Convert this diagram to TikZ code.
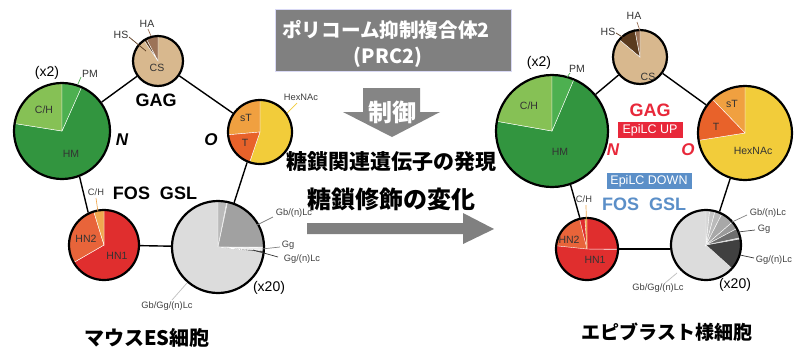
\documentclass[tikz,border=0pt]{standalone}
\usepackage{fontspec}
\setmainfont{Liberation Sans}
\newfontfamily\jp{Noto Sans CJK JP}
\definecolor{tanc}{HTML}{D8B88E}
\definecolor{hac}{HTML}{9C7358}
\definecolor{hsc}{HTML}{5A3A1E}
\definecolor{chg}{HTML}{86C155}
\definecolor{pmg}{HTML}{4DB050}
\definecolor{hmg}{HTML}{32953F}
\definecolor{stc}{HTML}{F0A040}
\definecolor{tc}{HTML}{E8622A}
\definecolor{hexc}{HTML}{F2CC3A}
\definecolor{hn1c}{HTML}{E02E2E}
\definecolor{hn2c}{HTML}{E8643A}
\definecolor{chc}{HTML}{F0A850}
\definecolor{lgc}{HTML}{DCDCDC}
\definecolor{redc}{HTML}{E8283A}
\definecolor{bluec}{HTML}{5B8FC8}
\definecolor{boxg}{HTML}{808080}
\definecolor{arrg}{HTML}{858585}
\newcommand\pslice[6]{\filldraw[fill=#6,draw=white,line width=0.4pt] (#1,#2) -- ++({-(#4)}:#3) arc[start angle={-(#4)}, end angle={-(#5)}, radius=#3] -- cycle;}
\begin{document}
\begin{tikzpicture}[x=1pt,y=-1pt,
  pie/.style={circle,draw=black,line width=2.2pt,inner sep=0pt},
  conn/.style={line width=1.4pt,black},
  lbl/.style={font=\fontsize{10.5}{11}\selectfont,text=black!80,inner sep=0pt},
  sml/.style={font=\fontsize{9.3}{10}\selectfont,text=black!75,inner sep=0pt},
  mult/.style={font=\fontsize{14}{15}\selectfont,inner sep=0pt},
  big/.style={font=\bfseries\fontsize{18}{19}\selectfont,inner sep=0pt},
  bigit/.style={font=\bfseries\itshape\fontsize{17}{18}\selectfont,inner sep=0pt},
  lead/.style={line width=0.7pt},
  jpt/.style={font=\jp\bfseries\fontsize{#1}{#1}\selectfont,inner sep=0pt},
  tagbox/.style={text=white,font=\fontsize{12.5}{13}\selectfont,inner sep=0pt,minimum height=16pt}
]
\useasboundingbox (0,0) rectangle (798,349);
\fill[white] (0,0) rectangle (798,349);

% ================= LEFT =================
\pslice{158}{61}{25}{124}{450}{tanc}
\pslice{158}{61}{25}{90}{118}{hac}
\pslice{158}{61}{25}{118}{124}{hsc}
\node[pie,minimum size=50pt] (csL) at (158,61) {};
\pslice{62}{131}{48}{171}{426}{hmg}
\pslice{62}{131}{48}{90}{171}{chg}
\pslice{62}{131}{48}{66}{90}{pmg}
\node[pie,minimum size=96pt] (hmL) at (62,131) {};
\pslice{260}{132}{32}{251}{450}{hexc}
\pslice{260}{132}{32}{90}{185}{stc}
\pslice{260}{132}{32}{185}{251}{tc}
\node[pie,minimum size=64pt] (oL) at (260,132) {};
\pslice{104}{245}{35}{210}{450}{hn1c}
\pslice{104}{245}{35}{107}{210}{hn2c}
\pslice{104}{245}{35}{90}{107}{chc}
\node[pie,minimum size=70pt] (hnL) at (104,245) {};
\pslice{218}{247}{46}{-1}{360}{lgc}
\pslice{218}{247}{46}{79}{90}{black!27}
\pslice{218}{247}{46}{0}{78}{black!37}
\pslice{218}{247}{46}{-4}{-1}{black!8}
\pslice{218}{247}{46}{-7}{-5}{black!70}
\node[pie,minimum size=92pt] (gslL) at (218,247) {};
\draw[conn] (csL) -- (hmL);
\draw[conn] (csL) -- (oL);
\draw[conn] (hmL.-69) -- (hnL.116);
\draw[conn] (hnL) -- (gslL);
\draw[conn] (oL.-113) -- (gslL.70);
\node[lbl] (hsLt) at (121,35) {HS};
\node[lbl] (haLt) at (147,24) {HA};
\coordinate (hsL1) at (129,37); \coordinate (hsL2) at (146,51);
\coordinate (haL1) at (148,29); \coordinate (haL2) at (151,36);
\draw[lead,hsc] (hsL1) -- (hsL2);
\draw[lead,hac] (haL1) -- (haL2);
\node[lbl] (csLt) at (157,68) {CS};
\node[lbl] (pmLt) at (90,74) {PM};
\coordinate (pmL1) at (81,77); \coordinate (pmL2) at (78,84);
\draw[lead,pmg] (pmL1) -- (pmL2);
\node[mult] (x2L) at (47,73) {(x2)};
\node[lbl] (chLt) at (44,110) {C/H};
\node[lbl] (hmLt) at (71,154) {HM};
\node[big] (gagL) at (156,100) {GAG};
\node[bigit] (nL) at (122,140) {N};
\node[bigit] (oLt) at (211,140) {O};
\node[lbl] (stLt) at (246,118) {sT};
\node[lbl] (tLt) at (245,143) {T};
\node[sml] (hexLt) at (301,97) {HexNAc};
\coordinate (hexL1) at (297,103); \coordinate (hexL2) at (287,113);
\draw[lead,hexc] (hexL1) -- (hexL2);
\node[sml] (chL2t) at (96,192) {C/H};
\coordinate (chL1) at (96,198); \coordinate (chL2) at (98,212);
\draw[lead,chc] (chL1) -- (chL2);
\node[big] (fosL) at (155,193) {FOS\hspace{10pt}GSL};
\node[lbl] (hn2Lt) at (86,239) {HN2};
\node[lbl] (hn1Lt) at (117,256) {HN1};
\node[sml] (gbLt) at (294,213) {Gb/(n)Lc};
\coordinate (gbL1) at (273,217); \coordinate (gbL2) at (257,225);
\draw[lead,black!50] (gbL1) -- (gbL2);
\node[sml] (ggLt) at (288,245) {Gg};
\coordinate (ggL1) at (280,247); \coordinate (ggL2) at (262,249);
\draw[lead,black!50] (ggL1) -- (ggL2);
\node[sml] (ggnLt) at (302,259) {Gg/(n)Lc};
\coordinate (ggnL1) at (278,257); \coordinate (ggnL2) at (253,250);
\draw[lead,black!80] (ggnL1) -- (ggnL2);
\node[sml] (gbgLt) at (167,306) {Gb/Gg/(n)Lc};
\coordinate (gbgL1) at (172,300); \coordinate (gbgL2) at (187,283);
\draw[lead,black!25] (gbgL1) -- (gbgL2);
\node[mult] (x20L) at (269,288) {(x20)};
\node[jpt=20] (esL) at (147,338) {マウスES細胞};

% ================= CENTER =================
\node[fill=boxg,draw=black!25!blue!15!white,line width=0.8pt,minimum width=236pt,minimum height=62pt,inner sep=0pt] (prc) at (393,40) {};
\node[jpt=19.6,text=white] (prc1) at (386,30) {ポリコーム抑制複合体2};
\node[jpt=19.6,text=white] (prc2) at (388,57) {(PRC2)};
\fill[arrg] (363,88) -- (420,88) -- (420,112) -- (440,112) -- (392,137) -- (343,112) -- (363,112) -- cycle;
\node[jpt=24,text=white] (ctrl) at (392,112) {制御};
\node[jpt=21] (expr) at (391,162) {糖鎖関連遺伝子の発現};
\node[jpt=24] (chg) at (391,199) {糖鎖修飾の変化};
\fill[boxg] (307,223) -- (463,223) -- (463,213) -- (494,229) -- (463,244) -- (463,234) -- (307,234) -- cycle;

% ================= RIGHT =================
\pslice{640}{57}{27}{140}{450}{tanc}
\pslice{640}{57}{27}{90}{101}{hac}
\pslice{640}{57}{27}{101}{140}{hsc}
\node[pie,minimum size=54pt] (csR) at (640,57) {};
\pslice{552}{131}{56}{170}{427}{hmg}
\pslice{552}{131}{56}{90}{170}{chg}
\pslice{552}{131}{56}{67}{90}{pmg}
\node[pie,minimum size=112pt] (hmR) at (552,131) {};
\pslice{745}{133}{47}{189}{450}{hexc}
\pslice{745}{133}{47}{90}{134}{stc}
\pslice{745}{133}{47}{134}{189}{tc}
\node[pie,minimum size=94pt] (oR) at (745,133) {};
\pslice{587}{249}{31}{-1}{360}{hn1c}
\pslice{587}{249}{31}{104}{174}{hn2c}
\pslice{587}{249}{31}{90}{94}{chc}
\node[pie,minimum size=62pt] (hnR) at (587,249) {};
\pslice{706}{245}{35}{-1}{360}{lgc}
\pslice{706}{245}{35}{84}{90}{black!17}
\pslice{706}{245}{35}{75}{84}{black!23}
\pslice{706}{245}{35}{63}{75}{black!27}
\pslice{706}{245}{35}{41}{63}{black!34}
\pslice{706}{245}{35}{28}{41}{black!40}
\pslice{706}{245}{35}{12}{28}{black!57}
\pslice{706}{245}{35}{-42}{10}{black!75}
\node[pie,minimum size=70pt] (gslR) at (706,245) {};
\draw[conn] (csR) -- (hmR);
\draw[conn] (csR) -- (oR);
\draw[conn] (hmR.-71) -- (hnR.103);
\draw[conn] (hnR.0) -- (gslR.west |- hnR.0);
\draw[conn] (oR.-108) -- (gslR.68);
\node[lbl] (hsRt) at (608,32) {HS};
\node[lbl] (haRt) at (634,16) {HA};
\coordinate (hsR1) at (616,33); \coordinate (hsR2) at (624,38);
\coordinate (haR1) at (637,22); \coordinate (haR2) at (640,31);
\draw[lead,hsc] (hsR1) -- (hsR2);
\draw[lead,hac] (haR1) -- (haR2);
\node[lbl] (csRt) at (648,77) {CS};
\node[mult] (x2R) at (539,63) {(x2)};
\node[lbl] (pmRt) at (577,69) {PM};
\coordinate (pmR1) at (570,73); \coordinate (pmR2) at (567,77);
\draw[lead,pmg] (pmR1) -- (pmR2);
\node[lbl] (chRt) at (529,106) {C/H};
\node[lbl] (hmRt) at (560,152) {HM};
\node[big,text=redc] (gagR) at (650,110) {GAG};
\node[tagbox,fill=redc,minimum width=65pt] (up) at (650,130) {EpiLC UP};
\node[bigit,text=redc] (nR) at (613,150) {N};
\node[bigit,text=redc] (oRt) at (688,150) {O};
\node[lbl] (stRt) at (732,104) {sT};
\node[lbl] (tRt) at (716,127) {T};
\node[lbl] (hexRt) at (753,151) {HexNAc};
\node[tagbox,fill=bluec,minimum width=85pt] (down) at (649,181) {EpiLC DOWN};
\node[big,text=bluec] (fosR) at (644,204) {FOS\hspace{10pt}GSL};
\node[sml] (chR2t) at (584,199) {C/H};
\coordinate (chR1) at (586,205); \coordinate (chR2) at (587,248);
\draw[lead,chc] (chR1) -- (chR2);
\node[lbl] (hn2Rt) at (569,240) {HN2};
\node[lbl] (hn1Rt) at (595,260) {HN1};
\node[sml] (gbRt) at (768,213) {Gb/(n)Lc};
\coordinate (gbR1) at (747,215); \coordinate (gbR2) at (732,222);
\draw[lead,black!50] (gbR1) -- (gbR2);
\node[sml] (ggRt) at (764,229) {Gg};
\coordinate (ggR1) at (755,230); \coordinate (ggR2) at (738,232);
\draw[lead,black!70] (ggR1) -- (ggR2);
\node[sml] (ggnRt) at (774,260) {Gg/(n)Lc};
\coordinate (ggnR1) at (754,258); \coordinate (ggnR2) at (740,255);
\draw[lead,black!80] (ggnR1) -- (ggnR2);
\node[sml] (gbgRt) at (658,288) {Gb/Gg/(n)Lc};
\coordinate (gbgR1) at (665,283); \coordinate (gbgR2) at (677,273);
\draw[lead,black!25] (gbgR1) -- (gbgR2);
\node[mult] (x20R) at (735,285) {(x20)};
\node[jpt=19] (epiR) at (667,332) {エピブラスト様細胞};
\end{tikzpicture}
\end{document}
